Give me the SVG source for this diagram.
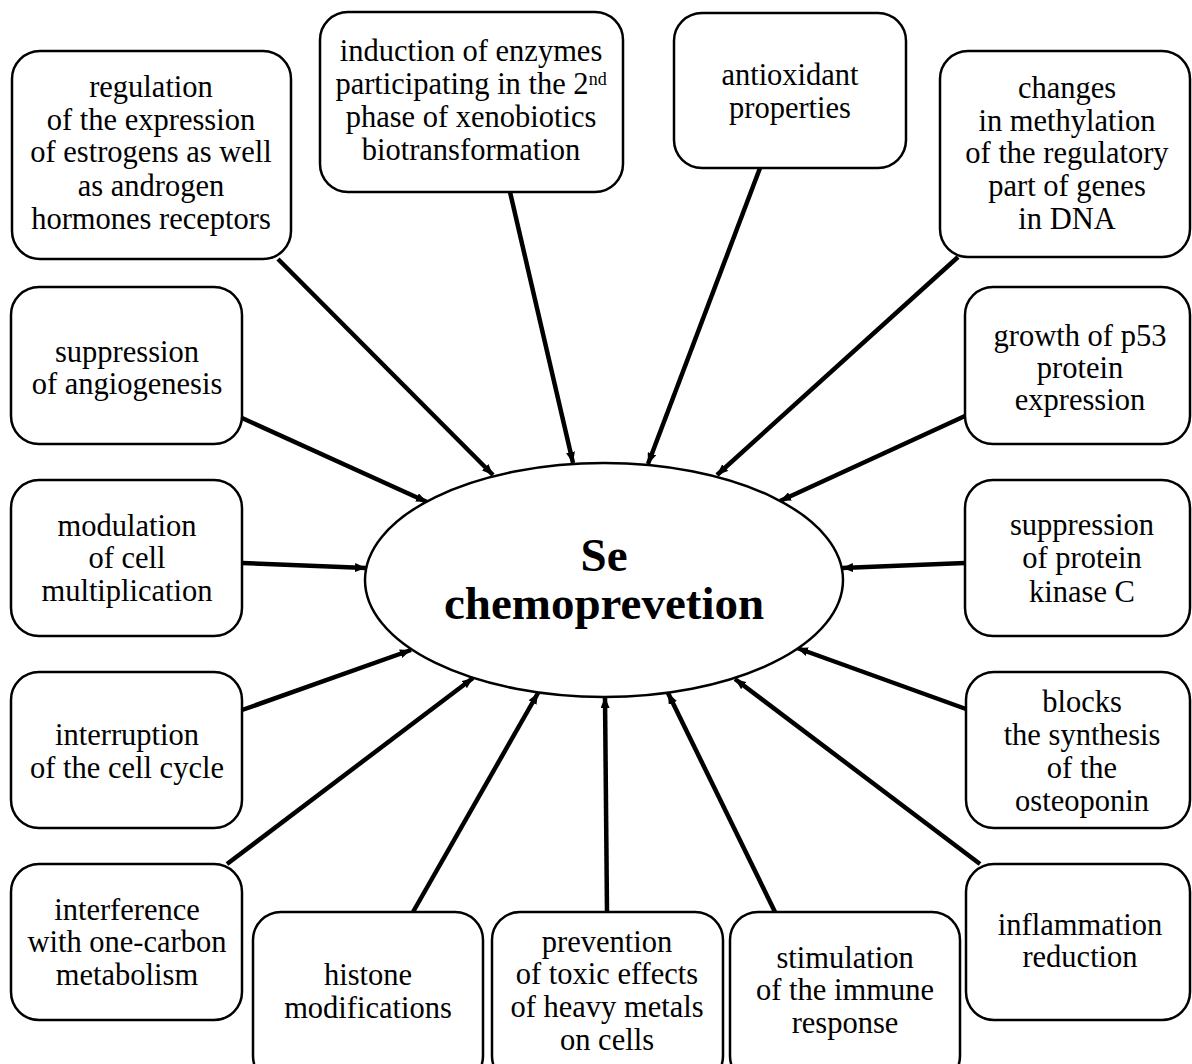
<svg xmlns="http://www.w3.org/2000/svg" width="1192" height="1064" viewBox="0 0 1192 1064">
<style>
.box{fill:#fff;stroke:#000;stroke-width:2.5}
.t{font-family:'Liberation Serif','Times New Roman',Times,'DejaVu Serif',serif;font-size:30.5px;font-weight:normal;text-anchor:middle;fill:#000}
.c{font-family:'Liberation Serif','Times New Roman',Times,'DejaVu Serif',serif;font-size:47px;font-weight:bold;text-anchor:middle;fill:#000}
.ln{stroke:#000;stroke-width:4.5;fill:none;marker-end:url(#ah)}
</style>
<defs>
<marker id="ah" markerUnits="userSpaceOnUse" markerWidth="11" markerHeight="9" refX="11" refY="4.5" orient="auto">
<path d="M0,0 L11,4.5 L0,9 z" fill="#000"/>
</marker>
</defs>
<rect width="1192" height="1064" fill="#fff"/>
<g id="connectors">
<line class="ln" x1="278" y1="259" x2="493" y2="475"/>
<line class="ln" x1="510" y1="192" x2="573" y2="463"/>
<line class="ln" x1="760" y1="168" x2="648" y2="464"/>
<line class="ln" x1="958" y1="257" x2="717" y2="475"/>
<line class="ln" x1="242" y1="418" x2="427" y2="502"/>
<line class="ln" x1="965" y1="416" x2="780" y2="501"/>
<line class="ln" x1="242" y1="563" x2="366" y2="568"/>
<line class="ln" x1="965" y1="563" x2="842" y2="568"/>
<line class="ln" x1="242" y1="710" x2="411" y2="650"/>
<line class="ln" x1="227" y1="864" x2="473" y2="678"/>
<line class="ln" x1="413" y1="912" x2="538" y2="693"/>
<line class="ln" x1="607" y1="912" x2="605" y2="697"/>
<line class="ln" x1="775" y1="912" x2="668" y2="693"/>
<line class="ln" x1="966" y1="709" x2="797" y2="648"/>
<line class="ln" x1="980" y1="864" x2="735" y2="679"/>
</g>
<g id="center">
<ellipse cx="604" cy="580" rx="239" ry="117" fill="#fff" stroke="#000" stroke-width="2.5"/>
<text class="c" x="604" y="571">Se</text>
<text class="c" x="604" y="619">chemoprevetion</text>
</g>
<g id="n1">
<rect class="box" x="12" y="51" width="279" height="208" rx="28"/>
<text class="t" x="151" y="97">regulation</text>
<text class="t" x="151" y="130">of the expression</text>
<text class="t" x="151" y="162">of estrogens as well</text>
<text class="t" x="151" y="196">as androgen</text>
<text class="t" x="151" y="229">hormones receptors</text>
</g>
<g id="n2">
<rect class="box" x="320" y="12" width="303" height="180" rx="28"/>
<text class="t" x="471" y="61">induction of enzymes</text>
<text class="t" x="471" y="94">participating in the 2<tspan font-size="18" dy="-9">nd</tspan></text>
<text class="t" x="471" y="127">phase of xenobiotics</text>
<text class="t" x="471" y="160">biotransformation</text>
</g>
<g id="n3">
<rect class="box" x="674" y="13" width="232" height="155" rx="28"/>
<text class="t" x="790" y="85">antioxidant</text>
<text class="t" x="790" y="118">properties</text>
</g>
<g id="n4">
<rect class="box" x="940" y="51" width="250" height="206" rx="28"/>
<text class="t" x="1067" y="98">changes</text>
<text class="t" x="1067" y="131">in methylation</text>
<text class="t" x="1067" y="163">of the regulatory</text>
<text class="t" x="1067" y="196">part of genes</text>
<text class="t" x="1067" y="229">in DNA</text>
</g>
<g id="n5">
<rect class="box" x="11" y="287" width="231" height="157" rx="28"/>
<text class="t" x="127" y="362">suppression</text>
<text class="t" x="127" y="394">of angiogenesis</text>
</g>
<g id="n6">
<rect class="box" x="965" y="287" width="225" height="157" rx="28"/>
<text class="t" x="1080" y="346">growth of p53</text>
<text class="t" x="1080" y="378">protein</text>
<text class="t" x="1080" y="410">expression</text>
</g>
<g id="n7">
<rect class="box" x="11" y="480" width="231" height="156" rx="28"/>
<text class="t" x="127" y="536">modulation</text>
<text class="t" x="127" y="568">of cell</text>
<text class="t" x="127" y="601">multiplication</text>
</g>
<g id="n8">
<rect class="box" x="965" y="480" width="225" height="156" rx="28"/>
<text class="t" x="1082" y="535">suppression</text>
<text class="t" x="1082" y="568">of protein</text>
<text class="t" x="1082" y="602">kinase C</text>
</g>
<g id="n9">
<rect class="box" x="11" y="672" width="231" height="156" rx="28"/>
<text class="t" x="127" y="745">interruption</text>
<text class="t" x="127" y="778">of the cell cycle</text>
</g>
<g id="n10">
<rect class="box" x="966" y="672" width="224" height="156" rx="28"/>
<text class="t" x="1082" y="712">blocks</text>
<text class="t" x="1082" y="745">the synthesis</text>
<text class="t" x="1082" y="778">of the</text>
<text class="t" x="1082" y="811">osteoponin</text>
</g>
<g id="n11">
<rect class="box" x="11" y="864" width="231" height="156" rx="28"/>
<text class="t" x="127" y="920">interference</text>
<text class="t" x="127" y="952">with one-carbon</text>
<text class="t" x="127" y="985">metabolism</text>
</g>
<g id="n12">
<rect class="box" x="253" y="912" width="230" height="172" rx="28"/>
<text class="t" x="368" y="985">histone</text>
<text class="t" x="368" y="1018">modifications</text>
</g>
<g id="n13">
<rect class="box" x="492" y="912" width="231" height="172" rx="28"/>
<text class="t" x="607" y="952">prevention</text>
<text class="t" x="607" y="984">of toxic effects</text>
<text class="t" x="607" y="1017">of heavy metals</text>
<text class="t" x="607" y="1050">on cells</text>
</g>
<g id="n14">
<rect class="box" x="730" y="912" width="230" height="172" rx="28"/>
<text class="t" x="845" y="968">stimulation</text>
<text class="t" x="845" y="1000">of the immune</text>
<text class="t" x="845" y="1033">response</text>
</g>
<g id="n15">
<rect class="box" x="966" y="864" width="224" height="156" rx="28"/>
<text class="t" x="1080" y="935">inflammation</text>
<text class="t" x="1080" y="967">reduction</text>
</g>
</svg>
